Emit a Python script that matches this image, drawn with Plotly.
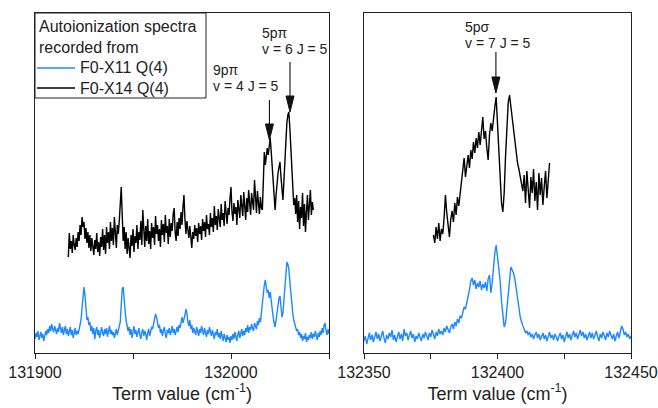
import plotly.graph_objects as go

# ---------------- data (intensity, arbitrary units) ----------------
left_x0 = 131900.0
left_step = 0.5
left_blue = [14,20,16,22,13,18,21,15,19,12,17,22,18,24,20,27,22,29,24,21,27,23,19,25,21,
             30,24,20,26,18,23,27,19,24,17,22,26,18,23,15,21,25,18,22,19,24,27,33,45,60,66,58,40,33,36,28,31,22,27,19,25,14,22,26,18,23,15,21,26,20,17,24,19,25,16,22,27,19,23,18,21,15,20,24,18,22,26,31,48,64,66,57,42,32,28,22,26,18,24,15,21,27,19,23,16,22,25,18,14,21,24,17,22,19,13,20,24,17,22,26,24,29,35,39,36,30,25,28,20,24,17,22,26,19,15,23,20,25,18,22,27,20,24,18,22,26,21,28,25,32,36,30,33,38,44,40,31,27,33,24,28,20,25,22,18,26,21,17,24,20,27,22,18,25,21,16,23,19,26,21,17,23,19,14,21,18,24,16,20,14,22,17,12,19,15,11,18,13,16,10,
             17,13,19,14,21,16,12,19,22,15,20,24,17,22,18,25,21,28,20,26,23,29,25,22,30,27,24,32,28,35,31,40,52,62,68,73,65,60,63,55,61,50,44,36,30,26,33,42,50,55,57,48,36,40,52,68,82,91,89,84,72,58,47,40,33,29,26,22,24,18,21,15,19,12,17,14,20,11,16,13,18,15,21,14,19,16,22,17,13,20,16,22,18,25,20,28,30,22,18,24,19]

left_black_x0 = 131917.0
left_black = [96,120,104,112,100,118,108,103,115,106,121,112,128,118,136,126,131,114,125,110,121,105,118,102,115,108,98,113,104,120,101,111,97,116,106,124,103,118,99,126,110,121,104,131,112,125,108,136,117,105,128,119,132,146,166,138,112,126,104,121,99,115,103,95,118,107,124,101,117,110,128,104,121,113,132,108,143,118,106,127,112,134,109,122,104,130,115,126,108,137,119,128,112,124,106,133,118,129,111,138,120,127,109,134,116,130,122,139,145,121,112,131,117,135,124,141,128,146,158,134,119,132,123,115,127,110,105,121,114,128,117,125,111,130,119,127,113,134,122,131,116,138,124,129,118,140,126,135,121,147,128,137,123,144,131,126,149,133,140,127,152,136,129,145,138,155,
              166,141,132,150,139,146,128,153,142,135,158,144,137,161,146,133,155,141,163,147,138,160,149,143,173,151,140,162,148,139,156,145,143,170,201,188,196,205,198,210,215,202,184,168,150,143,158,172,180,186,191,176,160,153,172,196,218,230,238,241,226,204,182,161,148,155,139,158,131,152,124,146,135,160,127,149,121,141,158,133,147,163,138,151,143]

right_x0 = 132350.0
right_step = 0.5
right_blue = [12,17,9,15,20,13,18,11,16,21,14,19,12,17,22,15,10,18,14,20,16,23,13,18,11,16,21,14,19,12,24,17,20,13,18,22,15,19,11,17,14,20,16,12,19,15,21,17,13,20,16,23,18,14,21,17,24,19,22,18,25,21,27,23,20,26,29,24,31,27,34,30,37,35,42,46,44,50,56,63,72,75,68,73,64,70,66,72,63,69,65,71,62,74,78,60,70,88,100,108,
              96,84,72,52,34,26,30,44,62,78,86,83,80,74,66,58,46,36,30,27,24,20,22,18,21,16,19,14,18,21,15,19,13,17,20,14,18,12,16,21,15,18,13,19,16,12,17,20,14,18,11,16,21,15,19,13,18,22,16,20,14,19,23,17,21,15,19,13,17,21,15,20,14,18,22,16,12,19,15,21,17,13,20,16,22,18,14,19,12,17,21,15,23,27,24,18,21,16,19,14,17]

right_black_x0 = 132376.0
right_black = [118,110,126,114,130,112,124,119,135,158,140,128,116,134,142,131,150,138,156,147,160,168,181,195,176,188,198,185,203,194,211,200,215,205,221,208,226,236,214,222,205,193,218,230,222,237,246,256,226,198,172,150,141,160,196,233,250,258,246,236,222,210,198,190,184,176,170,162,178,150,182,158,145,176,160,184,152,171,143,180,158,175,148,166,182,155,172,190]

left_tick_labels = [131900, 132000]
right_tick_labels = [132350, 132400, 132450]

series_names = ["F0-X11 Q(4)", "F0-X14 Q(4)"]
legend_title = ["Autoionization spectra", "recorded from"]

# assignments: (panel, peak position, peak intensity, label lines)
assign_panel = ["left", "left", "right"]
assign_pos = [132019.6, 132030.1, 132399.4]
assign_int = [213, 241, 260]
assign_text = [["9p\u03c0", "v = 4 J = 5"], ["5p\u03c0", "v = 6 J = 5"], ["5p\u03c3", "v = 7 J = 5"]]

BLUE = "#1E88FF"
BLACK = "#000000"
FONT = "Arial, 'Liberation Sans', sans-serif"
LW = 1.4

def xs(x0, step, ys):
    return [x0 + step * i for i in range(len(ys))]

fig = go.Figure()
fig.add_trace(go.Scatter(x=xs(left_x0, left_step, left_blue), y=left_blue, mode="lines",
                         line=dict(color=BLUE, width=LW), xaxis="x", yaxis="y", showlegend=False))
fig.add_trace(go.Scatter(x=xs(left_black_x0, left_step, left_black), y=left_black, mode="lines",
                         line=dict(color=BLACK, width=LW), xaxis="x", yaxis="y", showlegend=False))
fig.add_trace(go.Scatter(x=xs(right_x0, right_step, right_blue), y=right_blue, mode="lines",
                         line=dict(color=BLUE, width=LW), xaxis="x2", yaxis="y2", showlegend=False))
fig.add_trace(go.Scatter(x=xs(right_black_x0, right_step, right_black), y=right_black, mode="lines",
                         line=dict(color=BLACK, width=LW), xaxis="x2", yaxis="y2", showlegend=False))

W, H = 658, 408
ydom = [55 / H, 1 - 13 / H]
xaxis_common = dict(showline=True, linecolor="#222", linewidth=1, mirror=True, ticks="outside",
                    ticklen=5, tickwidth=1, tickcolor="#222", showgrid=False, zeroline=False,
                    tickfont=dict(family=FONT, size=16, color="#222"),
                    title=dict(text="Term value (cm<sup>-1</sup>)", font=dict(family=FONT, size=18, color="#222"),
                               standoff=4),
                    automargin=False)
yaxis_common = dict(showline=True, linecolor="#222", linewidth=1, mirror=True, ticks="",
                    showticklabels=False, showgrid=False, zeroline=False, range=[0, 340], domain=ydom,
                    automargin=False)

fig.update_layout(
    width=W, height=H, margin=dict(l=0, r=0, t=0, b=0),
    paper_bgcolor="white", plot_bgcolor="white",
    xaxis=dict(**xaxis_common, domain=[35 / W, 329 / W], range=[131900, 132050],
               tickvals=left_tick_labels, ticktext=[str(v) for v in left_tick_labels],
               minor=dict(tick0=131900, dtick=50, ticks="outside", ticklen=5, tickcolor="#222", showgrid=False),
               anchor="y"),
    yaxis=dict(**yaxis_common, anchor="x"),
    xaxis2=dict(**xaxis_common, domain=[364 / W, 631 / W], range=[132350, 132450],
                tickvals=right_tick_labels, ticktext=[str(v) for v in right_tick_labels],
                minor=dict(tick0=132350, dtick=25, ticks="outside", ticklen=5, tickcolor="#222", showgrid=False),
                anchor="y2"),
    yaxis2=dict(**yaxis_common, anchor="x2"),
)

def px(x):
    return x / W

def py(y):
    return 1 - y / H

# legend (manual box)
fig.add_shape(type="rect", xref="paper", yref="paper", x0=px(35), x1=px(206), y0=py(98), y1=py(13),
              line=dict(color="#222", width=1), fillcolor="white", layer="above")
for i, t in enumerate(legend_title):
    fig.add_annotation(xref="paper", yref="paper", x=px(37), y=py(27 + 20 * i), text=t, showarrow=False,
                       xanchor="left", yanchor="middle", font=dict(family=FONT, size=16, color="#222"))
for i, (name, col) in enumerate(zip(series_names, [BLUE, BLACK])):
    yy = 68 + 20 * i
    fig.add_shape(type="line", xref="paper", yref="paper", x0=px(37), x1=px(75), y0=py(yy), y1=py(yy),
                  line=dict(color=col, width=1.3))
    fig.add_annotation(xref="paper", yref="paper", x=px(78), y=py(yy), text=name, showarrow=False,
                       xanchor="left", yanchor="middle", font=dict(family=FONT, size=16, color="#222"))

# peak labels with arrows (arrow drawn as line + filled triangle, sizes in pixels)
arrow_len_px = [40, 50, 41]
text_px = [(211, 70), (260, 33), (463, 27)]
px_per_unit = {"left": 294 / 150, "right": 267 / 100}
for panel, xpk, ypk, lines, alen, (tx, ty) in zip(assign_panel, assign_pos, assign_int, assign_text,
                                                   arrow_len_px, text_px):
    xr, yr = ("x", "y") if panel == "left" else ("x2", "y2")
    hw = 4 / px_per_unit[panel]   # half-width of head
    hl = 16                       # head length (intensity units == pixels)
    fig.add_shape(type="line", xref=xr, yref=yr, x0=xpk, x1=xpk, y0=ypk + hl - 1, y1=ypk + alen,
                  line=dict(color="#111", width=1.1))
    fig.add_shape(type="path", xref=xr, yref=yr,
                  path=f"M {xpk - hw},{ypk + hl} L {xpk + hw},{ypk + hl} L {xpk},{ypk} Z",
                  fillcolor="#111", line=dict(color="#111", width=1))
    for j, t in enumerate(lines):
        fig.add_annotation(xref="paper", yref="paper", x=px(tx), y=py(ty + 16 * j), text=t, showarrow=False,
                           xanchor="left", yanchor="middle", font=dict(family=FONT, size=14, color="#222"))

fig.write_html("out.html")
